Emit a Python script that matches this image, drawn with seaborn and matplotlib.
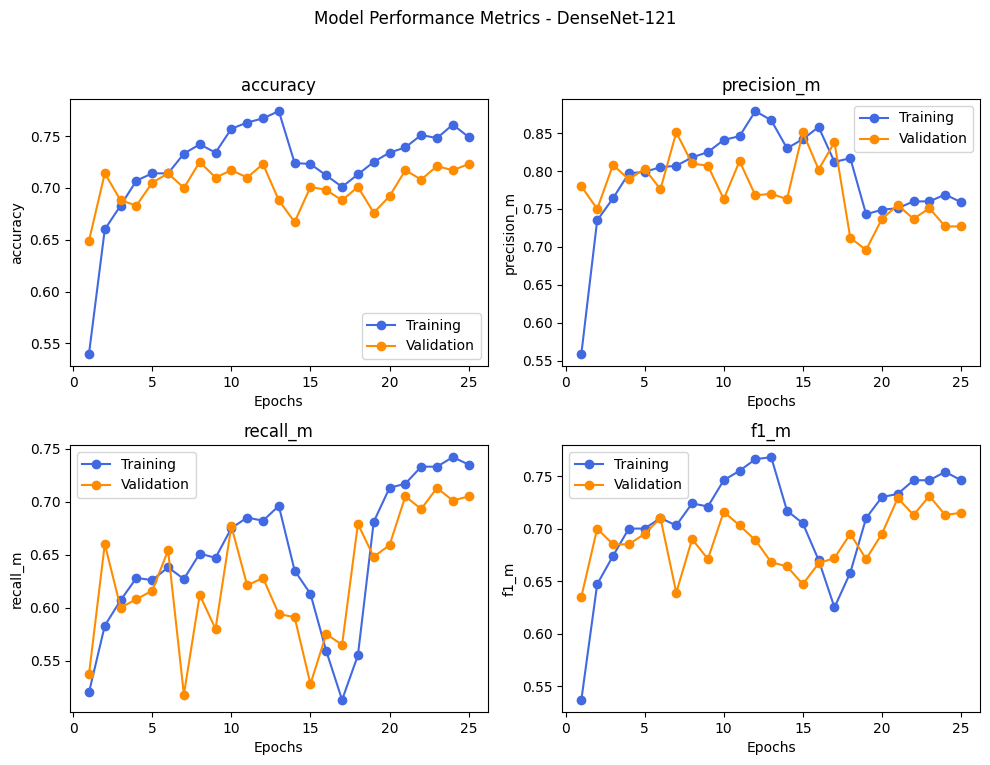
import matplotlib
matplotlib.use("Agg")
import matplotlib.pyplot as plt
import seaborn as sns
import pandas as pd

epochs = list(range(1, 26))

acc_train = [0.540, 0.660, 0.683, 0.707, 0.714, 0.714, 0.733, 0.742, 0.734, 0.757,
             0.763, 0.767, 0.774, 0.724, 0.723, 0.712, 0.701, 0.713, 0.725, 0.734,
             0.739, 0.751, 0.748, 0.761, 0.749]
acc_val = [0.649, 0.714, 0.688, 0.683, 0.705, 0.714, 0.700, 0.725, 0.710, 0.717,
           0.710, 0.723, 0.688, 0.667, 0.701, 0.698, 0.688, 0.701, 0.676, 0.692,
           0.717, 0.708, 0.721, 0.717, 0.723]

prec_train = [0.559, 0.735, 0.764, 0.797, 0.799, 0.805, 0.807, 0.818, 0.825, 0.841,
              0.846, 0.879, 0.867, 0.830, 0.842, 0.858, 0.812, 0.817, 0.743, 0.749,
              0.751, 0.760, 0.760, 0.769, 0.759]
prec_val = [0.780, 0.750, 0.808, 0.789, 0.803, 0.776, 0.851, 0.810, 0.807, 0.763,
            0.813, 0.768, 0.770, 0.763, 0.851, 0.802, 0.838, 0.712, 0.696, 0.737,
            0.755, 0.737, 0.751, 0.727, 0.727]

rec_train = [0.520, 0.583, 0.607, 0.628, 0.626, 0.638, 0.627, 0.651, 0.647, 0.675,
             0.685, 0.682, 0.696, 0.635, 0.613, 0.559, 0.513, 0.555, 0.681, 0.713,
             0.717, 0.733, 0.733, 0.742, 0.735]
rec_val = [0.537, 0.660, 0.600, 0.608, 0.616, 0.654, 0.518, 0.612, 0.580, 0.677,
           0.621, 0.628, 0.594, 0.591, 0.528, 0.575, 0.565, 0.679, 0.648, 0.659,
           0.705, 0.693, 0.713, 0.701, 0.705]

f1_train = [0.537, 0.647, 0.674, 0.700, 0.700, 0.710, 0.703, 0.724, 0.721, 0.746,
            0.755, 0.766, 0.768, 0.717, 0.705, 0.670, 0.625, 0.658, 0.710, 0.730,
            0.733, 0.746, 0.746, 0.754, 0.746]
f1_val = [0.635, 0.700, 0.685, 0.685, 0.695, 0.710, 0.639, 0.690, 0.671, 0.716,
          0.703, 0.689, 0.668, 0.664, 0.647, 0.667, 0.672, 0.695, 0.671, 0.695,
          0.729, 0.713, 0.731, 0.713, 0.715]

metrics = ["accuracy", "precision_m", "recall_m", "f1_m"]
train_series = [acc_train, prec_train, rec_train, f1_train]
val_series = [acc_val, prec_val, rec_val, f1_val]

train_color = "#4169E1"
val_color = "#FF8C00"

fig, axes = plt.subplots(2, 2, figsize=(9.9, 7.65), dpi=100)
for ax, name, tr, va in zip(axes.flat, metrics, train_series, val_series):
    df = pd.DataFrame({"Epochs": epochs, "Training": tr, "Validation": va})
    sns.lineplot(data=df, x="Epochs", y="Training", ax=ax, color=train_color,
                 marker="o", markersize=6, markeredgecolor=train_color,
                 markeredgewidth=1, label="Training")
    sns.lineplot(data=df, x="Epochs", y="Validation", ax=ax, color=val_color,
                 marker="o", markersize=6, markeredgecolor=val_color,
                 markeredgewidth=1, label="Validation")
    ax.set_title(name)
    ax.set_xlabel("Epochs")
    ax.set_ylabel(name)
    ax.set_xticks([0, 5, 10, 15, 20, 25])
    ax.legend(loc="best")

fig.suptitle("Model Performance Metrics - DenseNet-121", y=0.987)
fig.subplots_adjust(left=0.0707, right=0.9899, top=0.8706, bottom=0.0693,
                    wspace=0.179, hspace=0.296)
fig.savefig("out.png", dpi=100)
